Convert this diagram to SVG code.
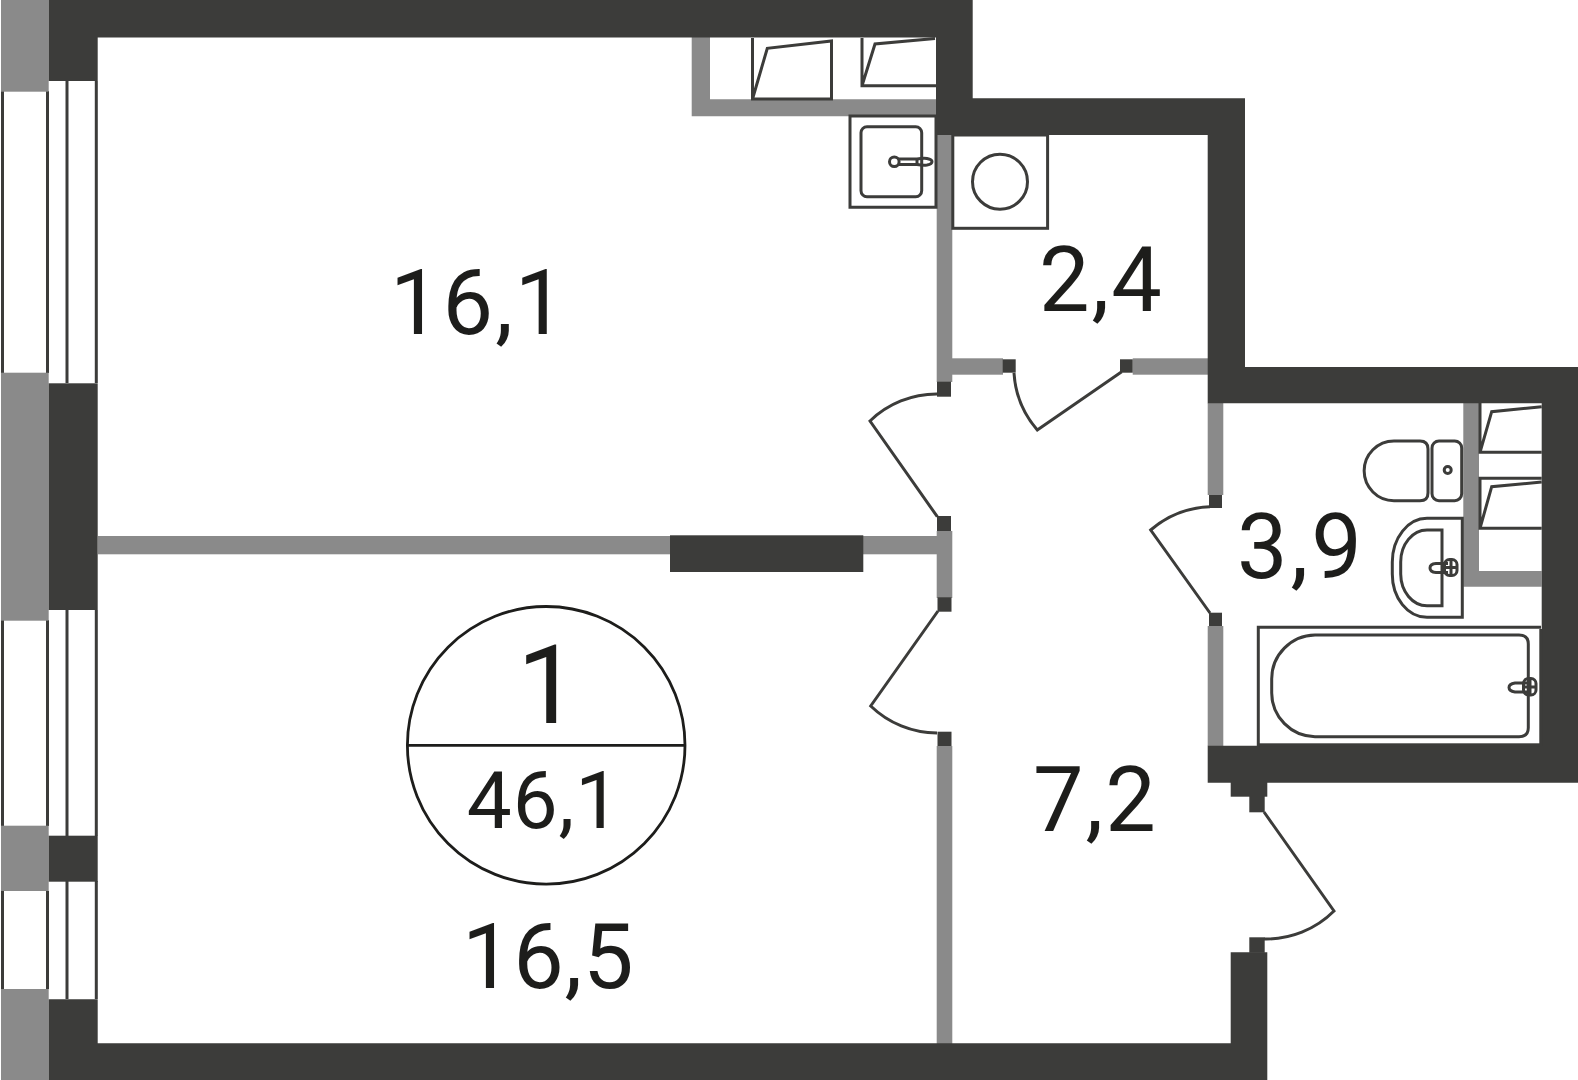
<svg xmlns="http://www.w3.org/2000/svg" width="1578" height="1080" viewBox="0 0 1578 1080">
<style>
.w{fill:#3c3c3a}.p{fill:#8a8a8a}
.l{fill:none;stroke:#3c3c3a;stroke-width:3;stroke-linejoin:miter}
.b{fill:none;stroke:#1d1d1b;stroke-width:2.800}
.t{fill:#1d1d1b;font-family:Roboto,"Liberation Sans",Arial,sans-serif}
</style>
<rect width="1578" height="1080" fill="#fff"/>
<g id="windows">
<path class="l" d="M2.500 91V373M47.500 91V373M2.500 620V826M47.500 620V826M2.500 891V989M47.500 891V989M67 81V383M96.300 81V383M67 610V836M96.300 610V836M67 881V999M96.300 881V999"/>
<rect class="p" x="1" y="0" width="47.700" height="91.700"/>
<rect class="p" x="1" y="372.700" width="47.700" height="248"/>
<rect class="p" x="1" y="825.700" width="47.700" height="65.300"/>
<rect class="p" x="1" y="989" width="47.700" height="91"/>
</g>
<g id="partitions">
<path class="p" d="M691.700 37H710V99.300H936V116.300H691.700Z"/>
<rect class="p" x="936.700" y="135" width="15.600" height="247"/>
<rect class="p" x="952" y="358.300" width="51" height="16.400"/>
<rect class="p" x="1132.700" y="358.300" width="75.500" height="16.400"/>
<rect class="p" x="1207.700" y="403" width="15.600" height="92"/>
<rect class="p" x="1207.700" y="626" width="15.600" height="120"/>
<path class="p" d="M1463.300 403H1479V571H1541.700V586.700H1463.300Z"/>
<rect class="p" x="98" y="536" width="840" height="18.300"/>
<rect class="p" x="936.700" y="531" width="15.600" height="67"/>
<rect class="p" x="936.700" y="746" width="15.600" height="298"/>
</g>
<g id="walls">
<path class="w" d="M48.700 0H972.700V98.300H1245V367H1578V782.700H1207.700V745.700H1541.700V403.300H1207.700V135H936V37.500H97.700V81H48.700Z"/>
<rect class="w" x="48.700" y="383.300" width="49" height="226.700"/>
<rect class="w" x="48.700" y="835.700" width="49" height="46"/>
<path class="w" d="M48.700 999.300H97.700V1043.300H1230.700V952.300H1267.300V1080H48.700Z"/>
<rect class="w" x="670" y="535.300" width="193.300" height="36.700"/>
<rect class="w" x="1230.700" y="782" width="36.600" height="14.700"/>
<rect class="w" x="1249.300" y="796" width="15.400" height="16.300"/>
<rect class="w" x="1249.300" y="937.300" width="15.400" height="15.500"/>
<rect class="w" x="937" y="381.700" width="14" height="15"/>
<rect class="w" x="937" y="516" width="14" height="15"/>
<rect class="w" x="937.500" y="597.300" width="14" height="14.400"/>
<rect class="w" x="937.500" y="731.700" width="14" height="14.300"/>
<rect class="w" x="1002.700" y="359.300" width="13" height="13.400"/>
<rect class="w" x="1120" y="359.300" width="12.700" height="13.400"/>
<rect class="w" x="1209" y="495" width="13" height="13"/>
<rect class="w" x="1209" y="612.700" width="13" height="13.300"/>
</g>
<g id="doors">
<path class="l" d="M937 394A96 96 0 0 0 870 421L937.300 516.700"/>
<path class="l" d="M938 611L870.700 706A96 96 0 0 0 937 733"/>
<path class="l" d="M1014 373A96 96 0 0 0 1037.300 430L1121.700 371.700"/>
<path class="l" d="M1210 506.700A96 96 0 0 0 1150.700 530L1210 613"/>
<path class="l" d="M1264 812L1334 911A96 96 0 0 1 1264 939"/>
</g>
<g id="kitchen">
<path class="l" d="M752.500 38V99H831.500V41L767.300 48.300L752.500 99"/>
<path class="l" d="M862 38V85.700H936M862 85.700L875 44L935 38.500"/>
<path class="l" d="M936 116V207.300H850V116H936"/>
<rect class="l" x="861" y="126.700" width="60.700" height="70" rx="6"/>
<circle class="l" cx="894.300" cy="161.700" r="4.800"/>
<path class="l" stroke-linejoin="round" d="M899 159H917Q923 158 927 158.500Q932 159.500 932 161.700Q932 164 927 165Q923 165.500 917 164.500H899"/>
<path class="l" d="M917 159V164.500"/>
</g>
<g id="washer">
<rect class="l" x="952.800" y="135" width="94.800" height="93.300"/>
<circle class="l" cx="1000" cy="181.700" r="27.500"/>
</g>
<g id="bathroom">
<path class="l" d="M1480 403V452.300H1541.700M1480 452.300L1491.700 411.700L1541.700 406.700"/>
<path class="l" d="M1541.700 478.300H1480V528.300H1541.700M1480 528.300L1491.700 486.700L1541.700 482"/>
<path class="l" d="M1394 441H1420Q1428 441 1428 449V492.700Q1428 500.700 1420 500.700H1394A29.800 29.800 0 0 1 1394 441Z"/>
<rect class="l" x="1432" y="441" width="29.700" height="59.700" rx="7"/>
<circle class="l" cx="1447.700" cy="470" r="3.500"/>
<path class="l" d="M1462.300 518.300H1427A34.700 44 0 0 0 1392.300 562V574A34.700 43 0 0 0 1427 617.300H1462.300Z"/>
<path class="l" d="M1442 530H1427A26.300 32 0 0 0 1400.700 562V574A26.300 32 0 0 0 1427 605.700H1442Z"/>
<path class="l" d="M1448 563.500H1436Q1430 564 1430 568Q1430 572 1436 572.500H1448"/>
<rect class="l" x="1444.500" y="559.500" width="12.500" height="16" rx="5"/>
<path class="l" d="M1444 567.500H1457M1451 559V576" stroke-width="2"/>
<path class="l" d="M1258.300 746V627.300H1541"/>
<rect class="w" x="1539.300" y="629" width="3" height="117"/>
<rect class="w" x="1258" y="743.300" width="282" height="3"/>
<path class="l" d="M1315 635H1519Q1528.300 635 1528.300 644V727.700Q1528.300 736.700 1519 736.700H1315A44 44 0 0 1 1271.700 693V679A44 44 0 0 1 1315 635Z"/>
<path class="l" d="M1527 683H1515Q1509 684 1509 687.500Q1509 691 1515 692H1527"/>
<rect class="l" x="1523.500" y="678.500" width="12.500" height="16.500" rx="5"/>
<path class="l" d="M1523 687H1536M1530 678V695" stroke-width="2"/>
</g>
<g id="labels">
<text class="t" x="390" y="334" font-size="90" letter-spacing="2">16,1</text>
<text class="t" x="1039" y="311" font-size="90" letter-spacing="2">2,4</text>
<text class="t" x="1237" y="578" font-size="90" letter-spacing="3">3,9</text>
<text class="t" x="1033" y="831" font-size="90" letter-spacing="2">7,2</text>
<text class="t" x="462" y="988" font-size="90" letter-spacing="0.700">16,5</text>
<text class="t" x="548" y="723" font-size="110" text-anchor="middle">1</text>
<text class="t" x="544" y="828" font-size="80" text-anchor="middle" letter-spacing="1">46,1</text>
</g>
<g id="badge">
<circle class="b" cx="546.200" cy="745.300" r="138.800"/>
<path class="b" d="M408 745.300H685"/>
</g>
</svg>
